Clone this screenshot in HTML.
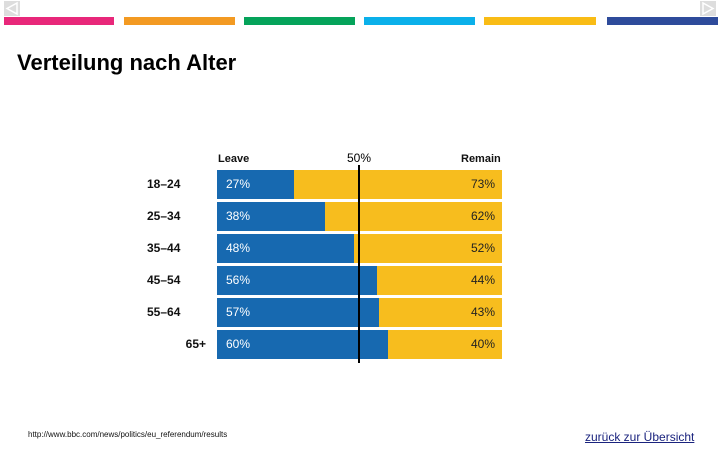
<!DOCTYPE html>
<html><head><meta charset="utf-8"><style>
body{margin:0;width:720px;height:450px;position:relative;background:#fff;font-family:"Liberation Sans",sans-serif;overflow:hidden}
.a{position:absolute}
.strip{position:absolute;top:17px;height:8px}
.lbl{position:absolute;font-size:11px;font-weight:bold;color:#111}
.bar{position:absolute;height:29px}
.pv{position:absolute;font-size:12px;line-height:29px}
</style></head><body>
<div class="a" style="left:4px;top:1px;width:16px;height:15px;background:#ddd"><svg width="16" height="15"><polygon points="13,2 3,7.5 13,13" fill="none" stroke="#fff" stroke-width="1.5"/></svg></div>
<div class="a" style="left:700px;top:1px;width:16px;height:15px;background:#ddd"><svg width="16" height="15"><polygon points="3,2 13,7.5 3,13" fill="none" stroke="#fff" stroke-width="1.5"/></svg></div>
<div class="strip" style="left:4px;width:110px;background:#e8287a"></div>
<div class="strip" style="left:124px;width:111px;background:#f39a22"></div>
<div class="strip" style="left:244px;width:111px;background:#05a35a"></div>
<div class="strip" style="left:364px;width:111px;background:#0bb0ea"></div>
<div class="strip" style="left:484px;width:112px;background:#f9bc15"></div>
<div class="strip" style="left:607px;width:111px;background:#2e4b9b"></div>
<div class="a" style="left:17px;top:50px;font-size:22px;font-weight:bold;color:#000">Verteilung nach Alter</div>
<div class="lbl" style="left:218px;top:153px">Leave</div>
<div class="a" style="left:347px;top:151px;font-size:12px">50%</div>
<div class="lbl" style="left:461px;top:153px">Remain</div>
<div id="chart"></div>
<div class="a" style="left:358px;top:165px;width:2px;height:198px;background:#000"></div>
<div class="a" style="left:28px;top:430px;font-size:8px;color:#111">http://www.bbc.com/news/politics/eu_referendum/results</div>
<div class="a" style="left:585px;top:430px;font-size:12px;color:#1a237e;text-decoration:underline">zurück zur Übersicht</div>
<script>
const categories=["18–24","25–34","35–44","45–54","55–64","65+"];
const leave=[27,38,48,56,57,60];
const remain=[73,62,52,44,43,40];
const X0=217,W=285,Y0=170,STEP=32;
const c=document.getElementById('chart');
function x(v){return X0+v/100*W;}
categories.forEach((cat,i)=>{
 const y=Y0+i*STEP;
 const l=document.createElement('div');l.className='lbl';l.style.fontSize='12px';l.style.left='147px';l.style.width='59px';l.style.textAlign=i==5?'right':'left';l.style.top=(y+7)+'px';l.textContent=cat;
 
 
 c.appendChild(l);
 const r=document.createElement('div');r.className='bar';r.style.left=x(0)+'px';r.style.width=(x(100)-x(0))+'px';r.style.top=y+'px';r.style.background='#f7bd1e';
 
 
 c.appendChild(r);
 const b=document.createElement('div');b.className='bar';b.style.left=x(0)+'px';b.style.width=(x(leave[i])-x(0))+'px';b.style.top=y+'px';b.style.background='#1769b0';
 
 
 c.appendChild(b);
 const lv=document.createElement('div');lv.className='pv';lv.style.left='226px';lv.style.top=y+'px';lv.style.color='#fff';lv.textContent=leave[i]+'%';
 
 
 c.appendChild(lv);
 const rv=document.createElement('div');rv.className='pv';rv.style.left='440px';rv.style.width='55px';rv.style.textAlign='right';rv.style.top=y+'px';rv.style.color='#222';rv.textContent=remain[i]+'%';
 
 
 c.appendChild(rv);
});
</script>
</body></html>
